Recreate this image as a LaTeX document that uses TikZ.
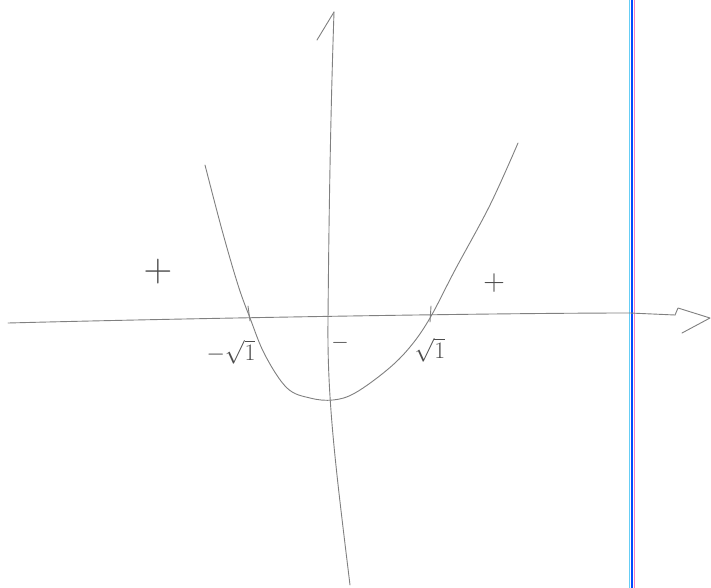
\documentclass[tikz,border=0pt]{standalone}
\usepackage{graphicx}
\begin{document}
\begin{tikzpicture}[x=1pt,y=-1pt,
  pen/.style={draw=black!50,line width=0.9pt,line cap=round,line join=round},
  lbl/.style={text=black!70,inner sep=0pt,font=\Huge}]
\useasboundingbox (0,0) rectangle (711,588);
\fill[white] (0,0) rectangle (711,588);
% scan stripe
\draw[cyan!60,line width=1.5pt] (629.5,0) -- (629.5,588);
\draw[blue!70!cyan,line width=2pt] (632,0) -- (632,588);
\draw[magenta!50,line width=1.2pt] (634.5,0) -- (634.5,588);
% axes
\coordinate (ytop) at (334,12);
\coordinate (xend) at (675,315);
\draw[pen] (350,585) .. controls (336,470) and (327,400) .. (328,320) .. controls (329,200) and (331,100) .. (ytop);
\draw[pen] (ytop) -- (317,40);
\draw[pen] (8,323) .. controls (200,318) and (500,313) .. (630,313) -- (xend);
\draw[pen] (xend) -- (678,308) -- (710,318) -- (682,333);
% parabola
\draw[pen] plot[smooth,tension=0.6] coordinates {(205,165) (222,230) (238,285) (250,318) (265,355) (287,388) (310,398) (333,400) (355,393) (387,370) (410,347) (430,318) (455,270) (490,205) (518,143)};
% ticks
\draw[pen] (248,306) -- (250,321);
\draw[pen] (431,306) -- (430,322);
% labels
\node[lbl] (l1) at (231,352) {\scalebox{0.95}{$-\sqrt{1}$}};
\node[lbl] (l2) at (430,350) {\scalebox{0.95}{$\sqrt{1}$}};
\node[lbl] (m) at (340,343) {\scalebox{0.9}{$-$}};
\node[lbl] (p1) at (158,272) {\scalebox{1.6}{$+$}};
\node[lbl] (p2) at (494,283) {\scalebox{1.2}{$+$}};
\end{tikzpicture}
\end{document}
